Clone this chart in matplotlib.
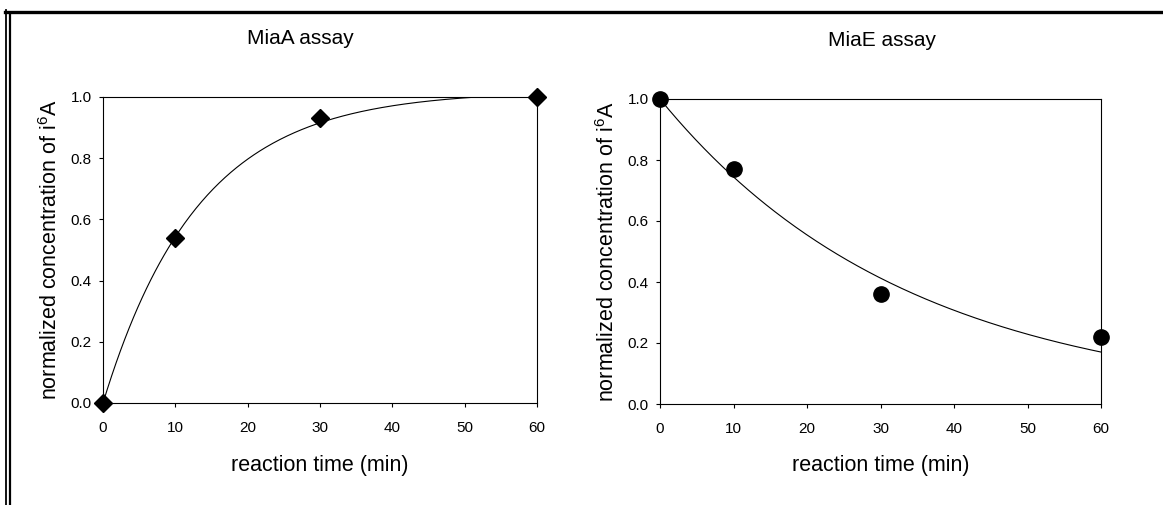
import numpy as np
import matplotlib
matplotlib.use("Agg")
import matplotlib.pyplot as plt
from matplotlib.lines import Line2D

plt.rcParams['font.family'] = ['Liberation Sans', 'DejaVu Sans']
plt.rcParams['mathtext.fontset'] = 'custom'
plt.rcParams['mathtext.rm'] = 'Liberation Sans'

# reaction time points (min)
times = [0, 10, 30, 60]
# normalized i6A, MiaA assay (formation) and MiaE assay (consumption)
miaA_values = [0.0, 0.54, 0.93, 1.0]
miaE_values = [1.0, 0.77, 0.36, 0.22]

# single exponential fits
miaA_plateau, miaA_rate = 1.02, 0.076
miaE_start, miaE_rate = 1.0, 0.0295

x_ticks = [0, 10, 20, 30, 40, 50, 60]
y_ticks = [0.0, 0.2, 0.4, 0.6, 0.8, 1.0]

W, H = 1163, 505
fig = plt.figure(figsize=(W / 100, H / 100), dpi=100)


def px_axes(x0, y0, x1, y1):
    # axes box given in pixel coords from the top-left corner
    return fig.add_axes([x0 / W, 1 - y1 / H, (x1 - x0) / W, (y1 - y0) / H])


def style(ax):
    ax.set_xlim(0, 60)
    ax.set_ylim(0, 1.0)
    ax.set_xticks(x_ticks)
    ax.set_yticks(y_ticks)
    ax.set_yticklabels(['%.1f' % v for v in y_ticks])
    for s in ax.spines.values():
        s.set_linewidth(0.8)
    ax.tick_params(direction='out', length=3, width=0.8, labelsize=11)
    ax.tick_params(axis='x', pad=10)
    ax.tick_params(axis='y', pad=5)
    ax.set_xlabel('reaction time (min)', fontsize=15.5, labelpad=14)
    ax.set_ylabel(r'normalized concentration of i$^{6}$A', fontsize=15.5, labelpad=6)


t = np.linspace(0, 60, 300)

ax1 = px_axes(103, 97, 537, 403)
style(ax1)
ax1.plot(t, miaA_plateau * (1 - np.exp(-miaA_rate * t)), color='black', lw=0.8)
ax1.plot(times, miaA_values, linestyle='none', marker='D', ms=9,
         color='black', clip_on=False, zorder=5)

ax2 = px_axes(660, 99, 1101, 404)
style(ax2)
ax2.plot(t, miaE_start * np.exp(-miaE_rate * t), color='black', lw=0.8)
ax2.plot(times, miaE_values, linestyle='none', marker='o', ms=11,
         color='black', clip_on=False, zorder=5)

fig.text(300 / W, 1 - 44 / H, 'MiaA assay', fontsize=15, ha='center', va='baseline')
fig.text(882 / W, 1 - 46 / H, 'MiaE assay', fontsize=15, ha='center', va='baseline')

# frame lines along the top and left edge
fig.add_artist(Line2D([5 / W, 1], [1 - 11.6 / H, 1 - 11.6 / H],
                      transform=fig.transFigure, color='black', lw=2.4))
fig.add_artist(Line2D([6 / W, 6 / W], [1 - 10 / H, 0],
                      transform=fig.transFigure, color='black', lw=1.3))
fig.add_artist(Line2D([10 / W, 10 / W], [1 - 13 / H, 0],
                      transform=fig.transFigure, color='black', lw=1.6))

fig.savefig('out.png', dpi=100)
